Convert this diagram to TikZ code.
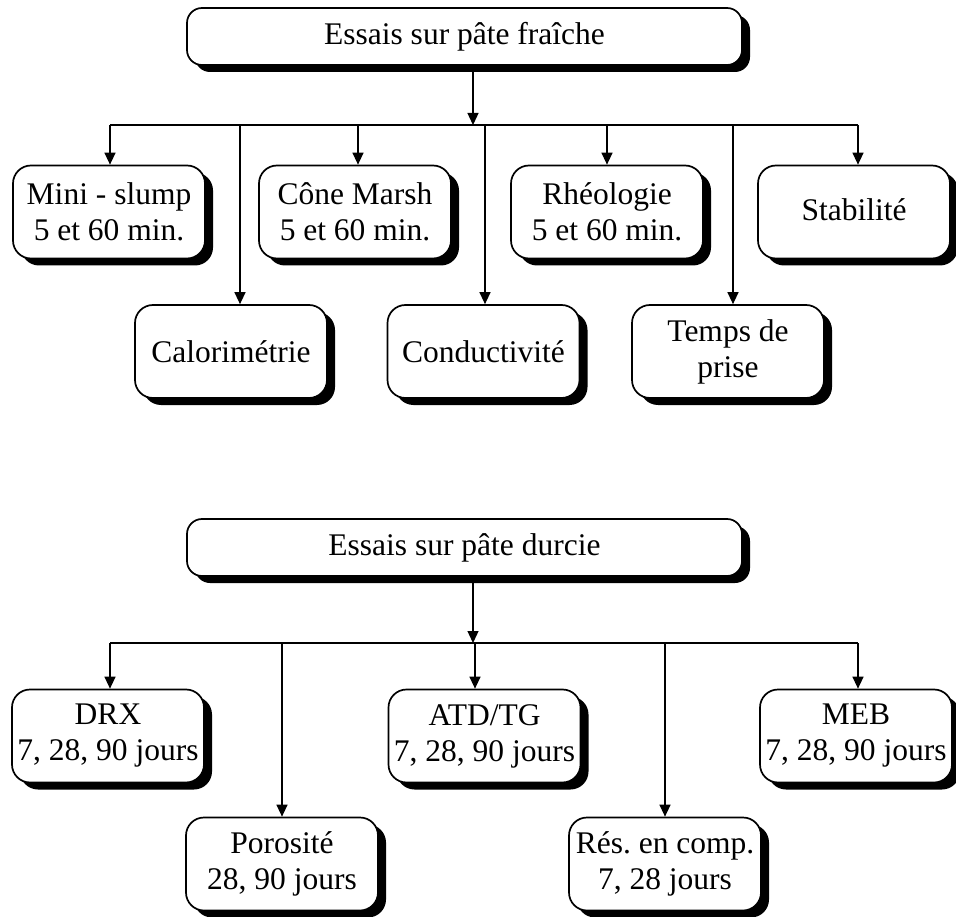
\documentclass[tikz,border=0pt]{standalone}
\usepackage{fontspec}
\setmainfont{Liberation Serif}
\usetikzlibrary{arrows.meta,shadows}
\frenchspacing
\begin{document}
\begin{tikzpicture}[x=1pt,y=-1pt,
  box/.style={draw=black, line width=1.7pt, fill=white, rounded corners=18pt,
    align=center, inner sep=0pt, font=\fontsize{31.5}{36}\selectfont,
    minimum width=192pt, minimum height=93pt,
    drop shadow={shadow xshift=8pt, shadow yshift=-7pt, fill=black, opacity=1}},
  titlebox/.style={box, rounded corners=15pt, minimum width=555pt, minimum height=57pt},
  conn/.style={line width=1.3pt},
  arr/.style={conn, -{Triangle[length=12pt,width=11pt]}}]
\useasboundingbox (0,0) rectangle (956,917);

% ---------- fresh paste ----------
\node[titlebox] (t1) at (464.5,36.5) {Essais sur pâte fraîche};

\node[box] (ms)  at (109,212)   {Mini - slump\\5 et 60 min.};
\node[box] (cm)  at (355,212)   {Cône Marsh\\5 et 60 min.};
\node[box] (rh)  at (607,212)   {Rhéologie\\5 et 60 min.};
\node[box] (st)  at (854,212)   {\raisebox{4pt}{Stabilité}};
\node[box] (cal) at (231,351.5) {Calorimétrie};
\node[box] (cnd) at (483.5,351.5) {Conductivité};
\node[box] (tp)  at (728,351.5) {Temps de\\prise};

\coordinate (j1)  at (473,125);
\coordinate (hms) at (110,125);
\coordinate (hcm) at (358,125);
\coordinate (hcal) at (240,125);
\coordinate (hcnd) at (485,125);
\coordinate (hrh) at (607,125);
\coordinate (htp) at (733,125);
\coordinate (hst) at (858,125);

\draw[arr] (t1.south -| j1) -- (j1);
\draw[conn] (hms) -- (hst);
\draw[arr] (hms) -- (hms |- ms.north);
\draw[arr] (hcm) -- (hcm |- cm.north);
\draw[arr] (hrh) -- (hrh |- rh.north);
\draw[arr] (hst) -- (hst |- st.north);
\draw[arr] (hcal) -- (hcal |- cal.north);
\draw[arr] (hcnd) -- (hcnd |- cnd.north);
\draw[arr] (htp) -- (htp |- tp.north);

% ---------- hardened paste ----------
\node[titlebox] (t2) at (464.5,547.5) {Essais sur pâte durcie};

\node[box] (drx) at (108,736)   {DRX\\7, 28, 90 jours};
\node[box] (atd) at (484.5,736) {ATD/TG\\7, 28, 90 jours};
\node[box] (meb) at (856,736)   {MEB\\7, 28, 90 jours};
\node[box] (por) at (282,864)   {Porosité\\28, 90 jours};
\node[box] (res) at (665,864)   {Rés. en comp.\\7, 28 jours};

\coordinate (j2)   at (473,643);
\coordinate (hdrx) at (110,643);
\coordinate (hpor) at (282,643);
\coordinate (hatd) at (475,643);
\coordinate (hres) at (665,643);
\coordinate (hmeb) at (858,643);

\draw[arr] (t2.south -| j2) -- (j2);
\draw[conn] (hdrx) -- (hmeb);
\draw[arr] (hdrx) -- (hdrx |- drx.north);
\draw[arr] (hatd) -- (hatd |- atd.north);
\draw[arr] (hmeb) -- (hmeb |- meb.north);
\draw[arr] (hpor) -- (hpor |- por.north);
\draw[arr] (hres) -- (hres |- res.north);
\end{tikzpicture}
\end{document}
